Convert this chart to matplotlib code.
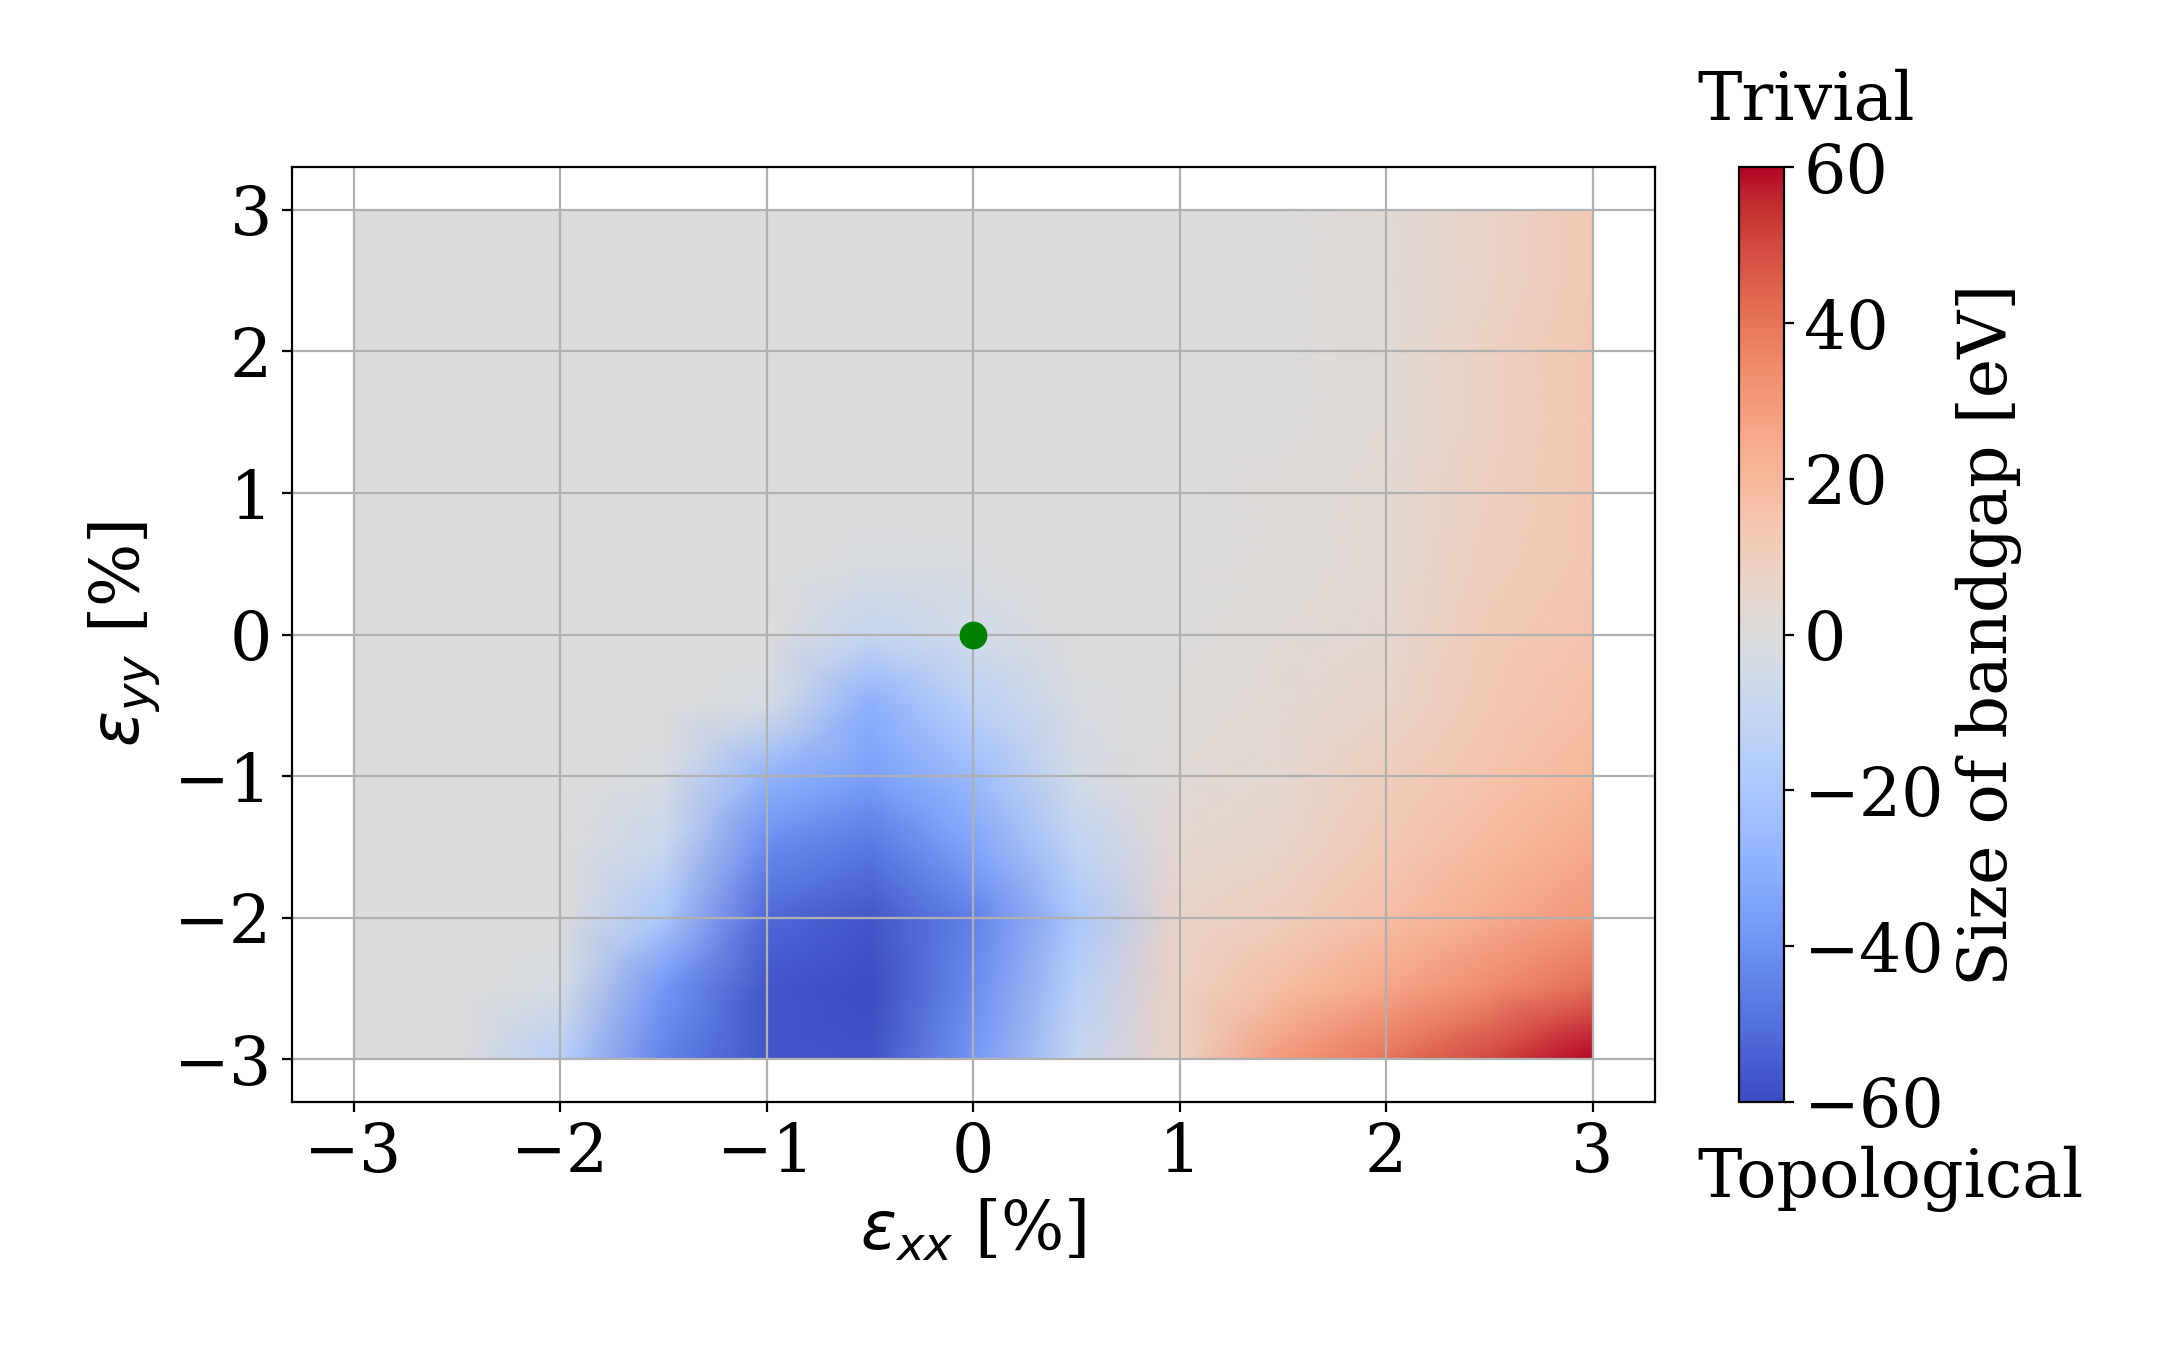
import numpy as np
import matplotlib
matplotlib.use("Agg")
import matplotlib.pyplot as plt

# strain grid in %
eps_xx = [-3, -2.5, -2, -1.5, -1, -0.5, 0, 0.5, 1, 1.5, 2, 2.5, 3]
eps_yy = [3, 2.5, 2, 1.5, 1, 0.5, 0, -0.5, -1, -1.5, -2, -2.5, -3]

# bandgap in eV, rows follow eps_yy (top to bottom), columns follow eps_xx
gap = [
    [0, 0, 0, 0, 0, 0, 0, 0, 0, 0, 2, 7, 13],
    [0, 0, 0, 0, 0, 0, 0, 0, 0, 0, 2, 7, 13],
    [0, 0, 0, 0, 0, 0, 0, 0, 0, 0, 2, 8, 14],
    [0, 0, 0, 0, 0, 0, 0, 0, 0, 0, 2, 8, 14],
    [0, 0, 0, 0, 0, 0, 0, 0, 0, 1, 3, 9, 14],
    [0, 0, 0, 0, 0, -2, -1, 0, 0, 1, 3, 10, 14],
    [0, 0, 0, 0, 0, -10, -5, 0, 0, 2, 4, 12, 15],
    [0, 0, 0, 0, -3, -30, -14, -2, 1, 3, 6, 13, 17],
    [0, 0, 0, -2, -28, -36, -25, -4, 2, 4, 10, 15, 20],
    [0, 0, 0, -8, -42, -48, -34, -12, 4, 6, 13, 19, 25],
    [0, 0, 0, -20, -52, -57, -45, -20, 7, 10, 17, 24, 30],
    [0, 0, -3, -38, -57, -60, -42, -15, 8, 18, 26, 34, 42],
    [0, 0, -15, -45, -57, -58, -38, -10, 8, 30, 40, 50, 60],
]

plt.rcParams['font.family'] = 'DejaVu Serif'
plt.rcParams['font.size'] = 24

fig = plt.figure(figsize=(10.8, 6.75), dpi=200)
ax = fig.add_axes([0.135, 0.184, 0.631, 0.692])
cax = fig.add_axes([0.805, 0.184, 0.021, 0.692])

X, Y = np.meshgrid(eps_xx, eps_yy)
mesh = ax.pcolormesh(X, Y, np.array(gap), shading='gouraud', cmap='coolwarm', vmin=-60, vmax=60)
ax.plot(0, 0, 'o', color='green', markersize=9)
ax.set_xlim(-3.3, 3.3)
ax.set_ylim(-3.3, 3.3)
ax.set_xticks([-3, -2, -1, 0, 1, 2, 3])
ax.set_yticks([-3, -2, -1, 0, 1, 2, 3])
ax.grid(True)
ax.set_xlabel(r'$\varepsilon_{xx}$ [%]')
ax.set_ylabel(r'$\varepsilon_{yy}$ [%]')

cb = fig.colorbar(mesh, cax=cax)
cb.set_ticks([-60, -40, -20, 0, 20, 40, 60])
cb.set_label('Size of bandgap [eV]')
fig.text(0.786, 0.925, 'Trivial', va='center', ha='left')
fig.text(0.786, 0.127, 'Topological', va='center', ha='left')

plt.savefig('out.png')
